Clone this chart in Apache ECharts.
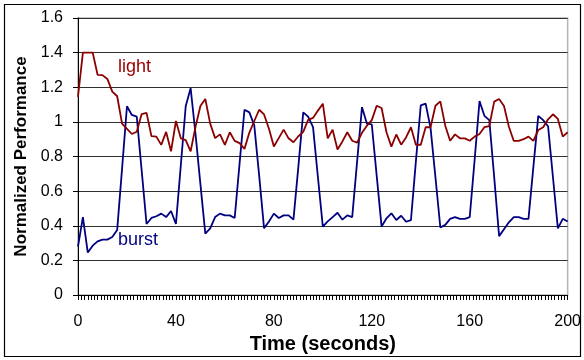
<!DOCTYPE html>
<html>
<head>
<meta charset="utf-8">
<script src="https://cdn.jsdelivr.net/npm/echarts@6/dist/echarts.min.js"></script>
<style>
html,body{margin:0;padding:0;background:#fff;}
#chart{width:584px;height:360px;}
</style>
</head>
<body>
<div id="chart"></div>
<script>
const timeSec = [0,2,4,6,8,10,12,14,16,18,20,22,24,26,28,30,32,34,36,38,40,42,44,46,48,50,52,54,56,58,60,62,64,66,68,70,72,74,76,78,80,82,84,86,88,90,92,94,96,98,100,102,104,106,108,110,112,114,116,118,120,122,124,126,128,130,132,134,136,138,140,142,144,146,148,150,152,154,156,158,160,162,164,166,168,170,172,174,176,178,180,182,184,186,188,190,192,194,196,198,200];

const light = [1.145,1.40,1.40,1.40,1.272,1.27,1.248,1.175,1.148,0.99,
0.96,0.93,0.943,1.045,1.052,0.918,0.915,0.867,0.942,0.83,
1.005,0.905,0.895,0.83,0.972,1.092,1.132,0.99,0.906,0.928,
0.867,0.94,0.89,0.877,0.844,0.938,1.005,1.07,1.043,0.96,
0.858,0.906,0.955,0.905,0.882,0.917,0.942,1.012,1.023,1.065,
1.105,0.905,0.955,0.84,0.887,0.94,0.891,0.88,0.937,0.978,
1.01,1.093,1.08,0.94,0.857,0.927,0.868,0.91,0.969,0.868,
0.868,0.969,0.969,1.093,1.118,0.978,0.891,0.928,0.905,0.905,
0.891,0.915,0.93,0.969,0.976,1.117,1.132,1.092,0.972,0.89,
0.89,0.9,0.915,0.89,0.953,0.969,1.015,1.044,1.017,0.915,
0.94];

const burst = [0.28,0.45,0.245,0.285,0.31,0.32,0.32,0.335,0.375,0.73,
1.09,1.04,1.03,0.72,0.41,0.445,0.455,0.47,0.45,0.485,
0.41,0.75,1.09,1.195,0.93,0.64,0.355,0.385,0.45,0.47,
0.46,0.46,0.445,0.76,1.07,1.055,0.98,0.69,0.385,0.425,
0.47,0.445,0.46,0.46,0.435,0.74,1.055,1.03,0.97,0.68,
0.395,0.425,0.45,0.475,0.435,0.46,0.45,0.77,1.085,0.99,
0.985,0.69,0.395,0.443,0.472,0.433,0.458,0.423,0.433,0.77,
1.095,1.105,0.965,0.68,0.39,0.405,0.44,0.45,0.44,0.44,
0.45,0.78,1.12,1.035,1.01,0.68,0.34,0.38,0.42,0.45,
0.45,0.44,0.44,0.74,1.035,1.01,0.975,0.68,0.385,0.44,
0.425];

const xTicks = [0,40,80,120,160,200];
const yTicks = [0,0.2,0.4,0.6,0.8,1,1.2,1.4,1.6];
const seriesNames = ['light','burst'];

const lightColor = '#8b0000';
const burstColor = '#000080';
const FONT = '"Liberation Sans", Arial, sans-serif';

const chart = echarts.init(document.getElementById('chart'), null, {renderer:'canvas'});
chart.setOption({
  animation:false,
  backgroundColor:'#fff',
  grid:{left:78, right:14, top:18, bottom:65, show:true, borderColor:'#b4b4b4', borderWidth:1.5, backgroundColor:'transparent'},
  xAxis:{
    type:'value', min:xTicks[0], max:xTicks[xTicks.length-1], interval:40,
    name:'Time (seconds)', nameLocation:'middle', nameGap:38,
    nameTextStyle:{fontFamily:FONT, fontWeight:'bold', fontSize:20, color:'#000'},
    axisLine:{show:true, lineStyle:{color:'#000', width:1}},
    axisTick:{show:true, inside:false, length:5, lineStyle:{color:'#000'}},
    minorTick:{show:true, splitNumber:30, length:5, lineStyle:{color:'#000'}},
    splitLine:{show:false},
    axisLabel:{fontFamily:FONT, fontSize:16, color:'#000', margin:19}
  },
  yAxis:{
    type:'value', min:yTicks[0], max:yTicks[yTicks.length-1], interval:0.2,
    name:'Normalized Performance', nameLocation:'middle', nameGap:47,
    nameTextStyle:{fontFamily:FONT, fontWeight:'bold', fontSize:17, color:'#000'},
    axisLine:{show:true, lineStyle:{color:'#000', width:1}},
    axisTick:{show:true, length:5, lineStyle:{color:'#000'}},
    splitLine:{show:true, lineStyle:{color:'#303030', width:1}},
    axisLabel:{fontFamily:FONT, fontSize:16, color:'#000', margin:15,
      formatter:function(v){return String(Math.round(v*10)/10);}}
  },
  series:[
    {name:seriesNames[1], type:'line', data:timeSec.map((t,i)=>[t,burst[i]]), showSymbol:false, symbol:'none',
      lineStyle:{color:burstColor, width:1.8}, z:2},
    {name:seriesNames[0], type:'line', data:timeSec.map((t,i)=>[t,light[i]]), showSymbol:false, symbol:'none',
      lineStyle:{color:lightColor, width:1.8}, z:3}
  ],
  graphic:[
    {type:'rect', shape:{x:4.5, y:4.5, width:576, height:352}, style:{fill:'none', stroke:'#000', lineWidth:1.2}, silent:true, z:-1},
    {type:'text', left:118, top:58, style:{text:seriesNames[0], font:'18px '+FONT, fill:'#990000'}},
    {type:'text', left:118, top:231, style:{text:seriesNames[1], font:'18px '+FONT, fill:burstColor}}
  ]
});
</script>
</body>
</html>
